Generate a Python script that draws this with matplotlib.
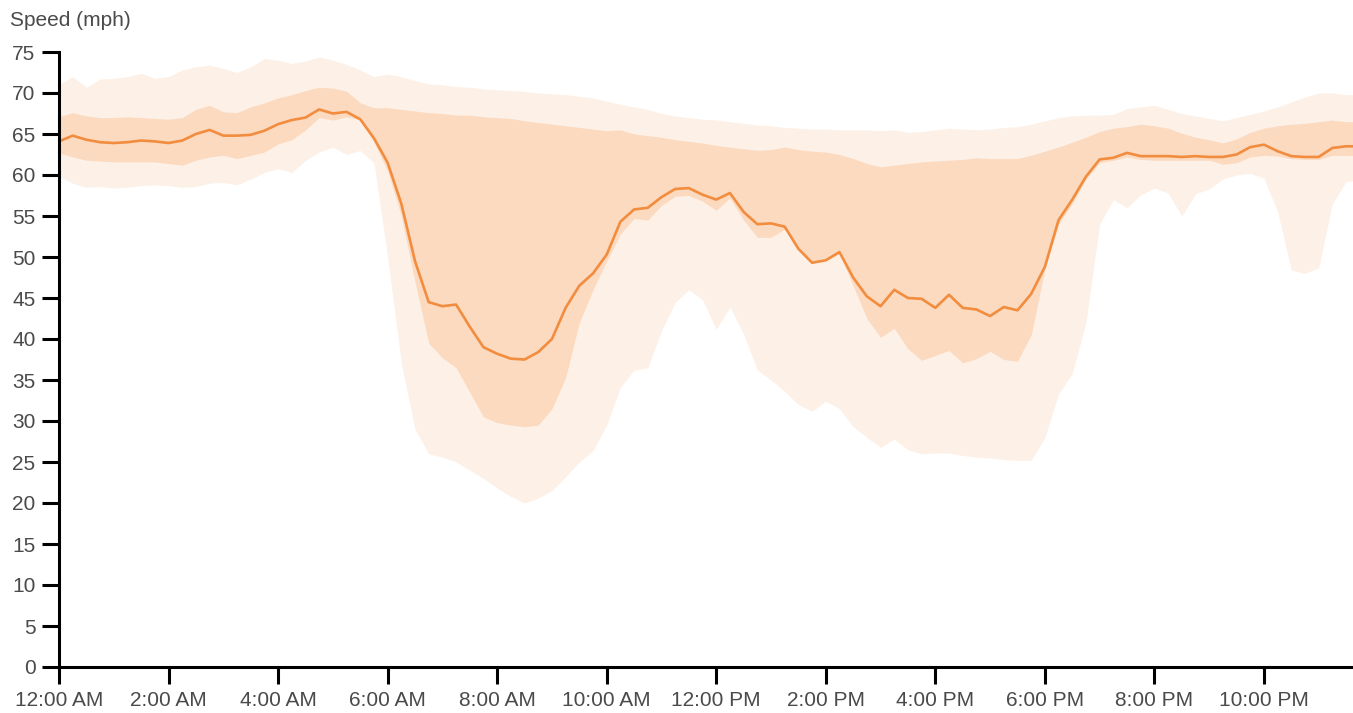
import matplotlib
matplotlib.use('Agg')
import matplotlib.pyplot as plt
import numpy as np

# time of day in hours, one value every 15 minutes
hours = np.arange(96) * 0.25

median = [64.1, 64.8, 64.3, 64.0, 63.9, 64.0, 64.2, 64.1, 63.9, 64.2, 65.0, 65.5,
          64.8, 64.8, 64.9, 65.4, 66.2, 66.7, 67.0, 68.0, 67.5, 67.7, 66.8, 64.5,
          61.5, 56.5, 49.5, 44.5, 44.0, 44.2, 41.5, 39.0, 38.2, 37.6, 37.5, 38.4,
          40.0, 43.8, 46.5, 48.0, 50.3, 54.3, 55.8, 56.0, 57.3, 58.3, 58.4, 57.6,
          57.0, 57.8, 55.5, 54.0, 54.1, 53.7, 51.0, 49.3, 49.6, 50.6, 47.5, 45.2,
          44.0, 46.0, 45.0, 44.9, 43.8, 45.4, 43.8, 43.6, 42.8, 43.9, 43.5, 45.5,
          48.8, 54.5, 57.0, 59.8, 61.9, 62.1, 62.7, 62.3, 62.3, 62.3, 62.2, 62.3,
          62.2, 62.2, 62.5, 63.4, 63.7, 62.9, 62.3, 62.2, 62.2, 63.3, 63.5, 63.5]

inner_hi = [67.1, 67.6, 67.2, 67.0, 67.0, 67.1, 67.0, 66.9, 66.8, 67.0, 68.0, 68.5,
            67.7, 67.6, 68.3, 68.8, 69.4, 69.8, 70.3, 70.7, 70.6, 70.2, 68.8, 68.2,
            68.2, 68.0, 67.8, 67.6, 67.5, 67.3, 67.3, 67.1, 67.0, 66.9, 66.6, 66.4,
            66.2, 66.0, 65.8, 65.6, 65.4, 65.5, 65.0, 64.8, 64.6, 64.3, 64.1, 63.9,
            63.6, 63.4, 63.2, 63.0, 63.1, 63.4, 63.1, 62.9, 62.8, 62.5, 62.0, 61.4,
            61.0, 61.2, 61.4, 61.6, 61.7, 61.8, 61.9, 62.1, 62.0, 62.0, 62.0, 62.4,
            62.9, 63.4, 64.0, 64.6, 65.3, 65.7, 65.9, 66.2, 66.0, 65.7, 65.1, 64.6,
            64.3, 63.9, 64.4, 65.2, 65.7, 66.0, 66.2, 66.3, 66.5, 66.7, 66.5, 66.5]

inner_lo = [62.7, 62.2, 61.8, 61.7, 61.6, 61.6, 61.6, 61.6, 61.4, 61.2, 61.8, 62.2,
            62.4, 62.0, 62.4, 62.8, 63.8, 64.3, 65.5, 67.0, 66.7, 67.1, 66.7, 64.0,
            60.5, 55.0, 47.0, 39.5, 37.7, 36.5, 33.5, 30.5, 29.8, 29.5, 29.3, 29.5,
            31.5, 35.3, 42.0, 46.0, 49.5, 52.8, 54.7, 54.5, 56.3, 57.4, 57.5, 56.8,
            55.7, 57.2, 54.5, 52.4, 52.4, 53.4, 51.0, 49.3, 49.6, 50.4, 46.5, 42.5,
            40.2, 41.3, 38.8, 37.4, 38.0, 38.6, 37.1, 37.6, 38.5, 37.5, 37.3, 40.5,
            48.5, 54.0, 56.5, 59.5, 61.5, 61.8, 62.2, 61.9, 61.8, 61.8, 61.8, 61.8,
            61.8, 61.3, 61.5, 62.2, 62.4, 62.3, 62.0, 61.9, 61.9, 62.4, 62.4, 62.4]

outer_hi = [71.0, 72.0, 70.7, 71.7, 71.8, 72.0, 72.4, 71.8, 72.0, 72.8, 73.2, 73.4,
            73.0, 72.5, 73.2, 74.2, 74.0, 73.6, 73.9, 74.4, 74.0, 73.5, 72.8, 72.0,
            72.3, 72.0, 71.5, 71.1, 71.0, 70.8, 70.7, 70.5, 70.4, 70.3, 70.2, 70.0,
            69.9, 69.8, 69.6, 69.4, 69.0, 68.6, 68.3, 68.0, 67.5, 67.2, 67.0, 66.8,
            66.7, 66.5, 66.3, 66.1, 66.0, 65.8, 65.7, 65.6, 65.6, 65.5, 65.5, 65.5,
            65.4, 65.5, 65.2, 65.3, 65.5, 65.7, 65.6, 65.5, 65.6, 65.8, 65.9, 66.2,
            66.6, 67.0, 67.2, 67.3, 67.3, 67.4, 68.1, 68.3, 68.5, 68.0, 67.5, 67.2,
            66.9, 66.6, 67.0, 67.4, 67.8, 68.3, 68.9, 69.5, 70.0, 70.0, 69.8, 69.8]

outer_lo = [59.8, 59.0, 58.5, 58.6, 58.4, 58.5, 58.7, 58.8, 58.7, 58.5, 58.6, 59.0,
            59.1, 58.8, 59.5, 60.3, 60.8, 60.3, 61.8, 62.8, 63.4, 62.5, 63.0, 61.5,
            50.0, 37.0, 29.0, 26.0, 25.6, 25.0, 24.0, 23.0, 21.8, 20.8, 20.0, 20.6,
            21.5, 23.2, 25.0, 26.4, 29.5, 34.1, 36.2, 36.5, 41.0, 44.5, 46.0, 44.8,
            41.2, 43.9, 40.6, 36.2, 35.0, 33.6, 32.0, 31.2, 32.4, 31.5, 29.3, 28.0,
            26.8, 27.8, 26.5, 26.0, 26.1, 26.1, 25.8, 25.6, 25.5, 25.3, 25.2, 25.2,
            28.0, 33.3, 35.8, 42.0, 54.0, 57.0, 56.0, 57.6, 58.4, 57.8, 55.0, 57.7,
            58.3, 59.5, 60.0, 60.2, 59.6, 55.5, 48.4, 48.0, 48.7, 56.5, 59.2, 59.4]

tick_hours = [0, 2, 4, 6, 8, 10, 12, 14, 16, 18, 20, 22]
tick_labels = ['12:00 AM', '2:00 AM', '4:00 AM', '6:00 AM', '8:00 AM', '10:00 AM',
               '12:00 PM', '2:00 PM', '4:00 PM', '6:00 PM', '8:00 PM', '10:00 PM']

plt.rcParams['font.family'] = ['Liberation Sans', 'DejaVu Sans']

fig = plt.figure(figsize=(13.53, 7.13), dpi=100)
ax = fig.add_axes([59/1353., 46/713., 1 - 59/1353., 615/713.])

ax.fill_between(hours, outer_lo, outer_hi, color='#fdf0e6', lw=0)
ax.fill_between(hours, inner_lo, inner_hi, color='#fbdac0', lw=0)
ax.plot(hours, median, color='#f28c3e', lw=1.9)

ax.set_xlim(0, (1353 - 59) / 54.77)
ax.set_ylim(0, 75)
ax.set_yticks(range(0, 80, 5))
ax.set_xticks(tick_hours)
ax.set_xticklabels(tick_labels)

for s in ['top', 'right']:
    ax.spines[s].set_visible(False)
for s in ['left', 'bottom']:
    ax.spines[s].set_linewidth(2.2)
    ax.spines[s].set_color('black')
ax.tick_params(length=12, width=2.2, color='black', labelcolor='#4a4a4a',
               labelsize=15, pad=5)

fig.text(10/1353., 1 - 20/713., 'Speed (mph)', fontsize=15, color='#4a4a4a',
         ha='left', va='center')

fig.savefig('out.png', dpi=100)
plt.close(fig)
